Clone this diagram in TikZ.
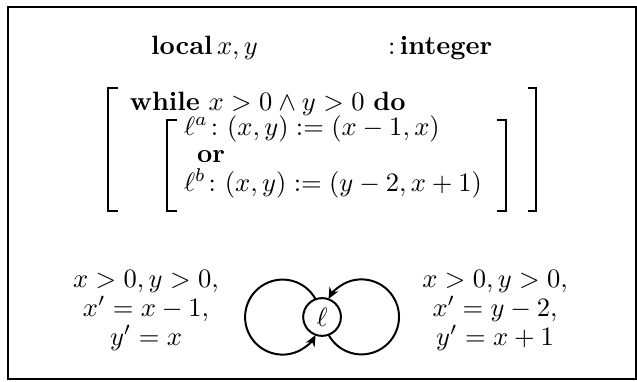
\documentclass[tikz,border=0pt]{standalone}
\usepackage{amsmath}
\usetikzlibrary{arrows.meta}
\begin{document}
\begin{tikzpicture}[line width=0.75pt,>={Stealth[length=1.5mm,width=1.3mm]},
  txt/.style={anchor=base west,inner sep=0pt},
  cond/.style={anchor=base,inner sep=0pt,align=center,font=\fontsize{10}{10.8}\selectfont}]
  \useasboundingbox (0,0) rectangle (8.44,5.05);
  % marco
  \draw (0.11,0.03) rectangle (8.42,4.955);
  % declaracion de variables
  \node[txt] (decl) at (1.99,4.333) {$\mathbf{local}\,x,y$};
  \node[txt] (tipo) at (5.13,4.333) {$:$\,\textbf{integer}};
  % cuerpo del programa
  \node[txt] (mientras) at (1.709,3.591) {\textbf{while} $x>0\wedge y>0$ \textbf{do}};
  \node[txt] (asigA) at (2.425,3.26) {$\ell^a\colon(x,y):=(x-1,x)$};
  \node[txt] (o) at (2.597,2.9) {\textbf{or}};
  \node[txt] (asigB) at (2.425,2.517) {$\ell^b\colon(x,y):=(y-2,x+1)$};
  % corchetes
  \foreach \xa/\xb/\yt in {1.431/1.563/3.882,2.213/2.345/3.458,6.705/6.585/3.458,7.102/6.99/3.882}
    \draw (\xb,\yt)--(\xa,\yt)--(\xa,2.253)--(\xb,2.253);
  % sistema de transiciones
  \node[circle,draw,minimum size=0.5cm,inner sep=0pt,outer sep=0pt] (l) at (4.267,0.85) {$\ell$};
  \draw[->] (l.110) arc[start angle=28.4,end angle=331.6,radius=0.497];
  \draw[->] (l.-70) arc[start angle=-151.6,end angle=151.6,radius=0.497];
  \node[cond] (condA) at (1.934,0.477) {$x>0,y>0,$\\$x'=x-1,$\\$y'=x$};
  \node[cond] (condB) at (6.559,0.477) {$x>0,y>0,$\\$x'=y-2,$\\$y'=x+1$};
\end{tikzpicture}
\end{document}
